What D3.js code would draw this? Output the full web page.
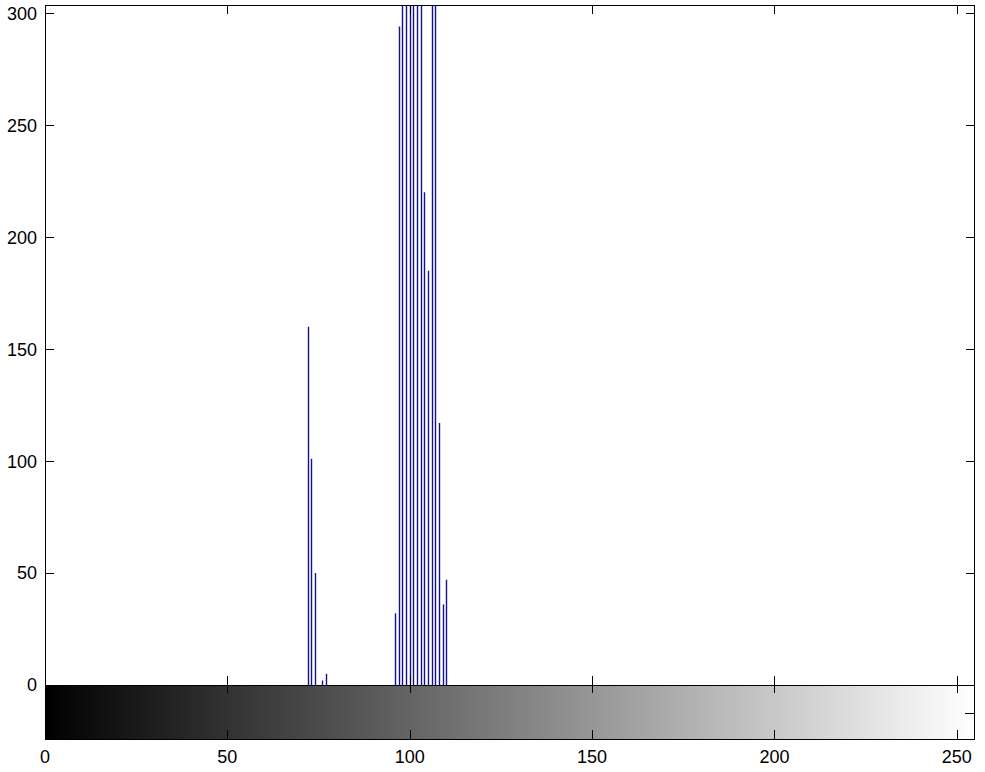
<!DOCTYPE html>
<html>
<head>
<meta charset="utf-8">
<script src="https://cdn.jsdelivr.net/npm/d3@7"></script>
<style>
  body { margin: 0; background: #fff; }
  svg text { font-family: "Liberation Sans", Arial, sans-serif; font-size: 18px; fill: #000; }
</style>
</head>
<body>
<svg id="chart" width="985" height="772"></svg>
<script>
// grey levels that have counts, and their counts (the rest are 0)
var levels = [72, 73, 74, 76, 77, 96, 97, 98, 99, 100, 101, 102, 103, 104, 105, 106, 107, 108, 109, 110];
var counts = [160, 101, 50, 2, 5, 32, 294, 520, 760, 980, 870, 640, 430, 220, 185, 560, 410, 117, 36, 47];
var yTicks = [0, 50, 100, 150, 200, 250, 300];
var xTicks = [0, 50, 100, 150, 200, 250];

(function() {
var pLeft = 45, pRight = 975, pTop = 5, pBottom = 685, barBottom = 740;

var svg = d3.select('#chart');
var x = d3.scaleLinear().domain([0, 255]).range([pLeft, pRight]);
var y = d3.scaleLinear().domain([0, 303.6]).range([pBottom, pTop]);

svg.append('clipPath').attr('id', 'plotclip')
  .append('rect').attr('x', pLeft).attr('y', pTop).attr('width', pRight - pLeft).attr('height', pBottom - pTop);

// stems
svg.append('g').attr('clip-path', 'url(#plotclip)')
  .selectAll('line').data(levels).enter().append('line')
  .attr('x1', function(d){ return Math.round(x(d)) + 0.5; })
  .attr('x2', function(d){ return Math.round(x(d)) + 0.5; })
  .attr('y1', y(0))
  .attr('y2', function(d, i){ return y(counts[i]); })
  .attr('stroke', '#12128c')
  .attr('stroke-width', 1.4);

// colorbar (grey colormap)
var grey = d3.range(256);
svg.append('clipPath').attr('id', 'barclip')
  .append('rect').attr('x', pLeft).attr('y', pBottom).attr('width', pRight - pLeft).attr('height', barBottom - pBottom);
svg.append('g').attr('clip-path', 'url(#barclip)').attr('shape-rendering', 'crispEdges')
  .selectAll('rect').data(grey).enter().append('rect')
  .attr('x', function(d){ return Math.floor(x(d - 0.5)); })
  .attr('width', function(d){ return Math.ceil(x(d + 0.5)) - Math.floor(x(d - 0.5)); })
  .attr('y', pBottom).attr('height', barBottom - pBottom)
  .attr('fill', function(d){ return d3.rgb(d, d, d); });

var axes = svg.append('g').attr('stroke', '#000').attr('stroke-width', 1).attr('fill', 'none');
axes.append('rect').attr('x', pLeft + 0.5).attr('y', pTop + 0.5).attr('width', pRight - pLeft - 1).attr('height', pBottom - pTop);
axes.append('rect').attr('x', pLeft + 0.5).attr('y', pBottom + 0.5).attr('width', pRight - pLeft - 1).attr('height', barBottom - pBottom - 1);

// y ticks both sides, inside
yTicks.forEach(function(t){
  var yy = Math.round(y(t)) + 0.5;
  axes.append('line').attr('x1', pLeft).attr('x2', pLeft + 9).attr('y1', yy).attr('y2', yy);
  axes.append('line').attr('x1', pRight - 9).attr('x2', pRight).attr('y1', yy).attr('y2', yy);
});
svg.append('g').selectAll('text').data(yTicks).enter().append('text')
  .attr('x', pLeft - 8).attr('y', function(d){ return y(d); })
  .attr('dy', '0.36em').attr('text-anchor', 'end')
  .text(function(d){ return d; });

// x ticks: main axes top and bottom, colorbar top and bottom
xTicks.forEach(function(t){
  var xx = Math.round(x(t)) + 0.5;
  axes.append('line').attr('x1', xx).attr('x2', xx).attr('y1', pTop).attr('y2', pTop + 9);
  axes.append('line').attr('x1', xx).attr('x2', xx).attr('y1', pBottom - 9).attr('y2', pBottom + 8);
  axes.append('line').attr('x1', xx).attr('x2', xx).attr('y1', barBottom - 10).attr('y2', barBottom);
});
var midBar = Math.round((pBottom + barBottom) / 2) + 0.5;
axes.append('line').attr('x1', pLeft).attr('x2', pLeft + 10).attr('y1', midBar).attr('y2', midBar);
axes.append('line').attr('x1', pRight - 10).attr('x2', pRight).attr('y1', midBar).attr('y2', midBar);

svg.append('g').selectAll('text').data(xTicks).enter().append('text')
  .attr('x', function(d){ return x(d); })
  .attr('y', barBottom + 23)
  .attr('text-anchor', 'middle')
  .text(function(d){ return d; });
})();
</script>
</body>
</html>
